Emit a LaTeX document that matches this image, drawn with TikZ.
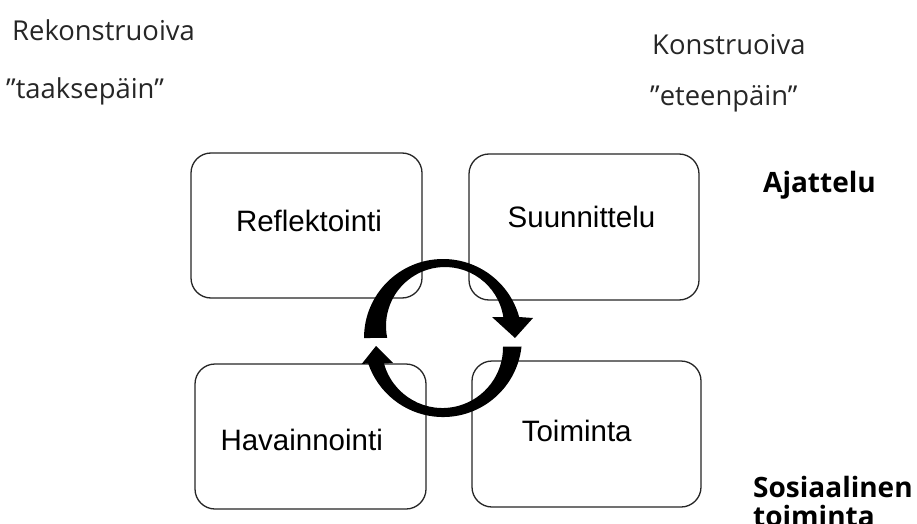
\documentclass[tikz,border=0pt]{standalone}
\usepackage{fontspec}
\setmainfont{Liberation Sans}
\newfontfamily\humanist{Open Sans}
\begin{document}
\begin{tikzpicture}[x=1pt,y=1pt,
  box/.style={draw=black!85, line width=1.3pt, rounded corners=20pt, fill=white, inner sep=0pt},
  boxlabel/.style={anchor=base, inner sep=0pt, font=\fontsize{29.5}{35}\selectfont},
  phase/.style={anchor=base west, inner sep=0pt, text=black!85, font=\humanist\fontsize{27.4}{32}\selectfont},
  level/.style={anchor=base west, inner sep=0pt, font=\humanist\bfseries\fontsize{28}{33}\selectfont},
  cyclearrow/.style={fill=black}]
\useasboundingbox (0,0) rectangle (917,523);

% headings of the two columns
\node[phase] (rek)  at (12,482)  {Rekonstruoiva};
\node[phase] (taak) at (6,424)   {”taaksepäin”};
\node[phase] (kon)  at (652,468) {Konstruoiva};
\node[phase] (etee) at (650,417) {”eteenpäin”};

% headings of the two rows
\node[level] (ajat) at (763,331) {Ajattelu};
\node[level] (sos)  at (753,26)  {Sosiaalinen};
\node[level] (toim) at (753,-3)  {toiminta};

% the four phases
\node[box, minimum width=231pt, minimum height=145pt] (refl) at (306.5,297.5) {};
\node[box, minimum width=230pt, minimum height=146pt] (suun) at (584,296) {};
\node[box, minimum width=231pt, minimum height=145pt] (hava) at (310.5,86.5) {};
\node[box, minimum width=229pt, minimum height=146pt] (toimi) at (586.5,89) {};

\node[boxlabel] (reflt) at (309,291.3)  {Reflektointi};
\node[boxlabel] (suunt) at (581.5,296)  {Suunnittelu};
\node[boxlabel] (havat) at (301.7,73)   {Havainnointi};
\node[boxlabel] (toimt) at (576.7,81.3) {Toiminta};

% cycle: upper arrow (clockwise over the top)
\fill[cyclearrow] (364,185) arc[start angle=180, end angle=15.4, radius=79]
  -- (533,205) -- (515,185) -- (492,206) -- (503.3,206)
  arc[start angle=8.8, end angle=191.7, radius=59] -- cycle;

% cycle: lower arrow (clockwise under the bottom)
\fill[cyclearrow] (521.5,176.3) arc[start angle=-6.3, end angle=-161.2, radius=79]
  -- (361.7,159) -- (376,177) -- (393,160) -- (384,159.5)
  arc[start angle=-164.6, end angle=0.7, radius=60.6] -- cycle;
\end{tikzpicture}
\end{document}
